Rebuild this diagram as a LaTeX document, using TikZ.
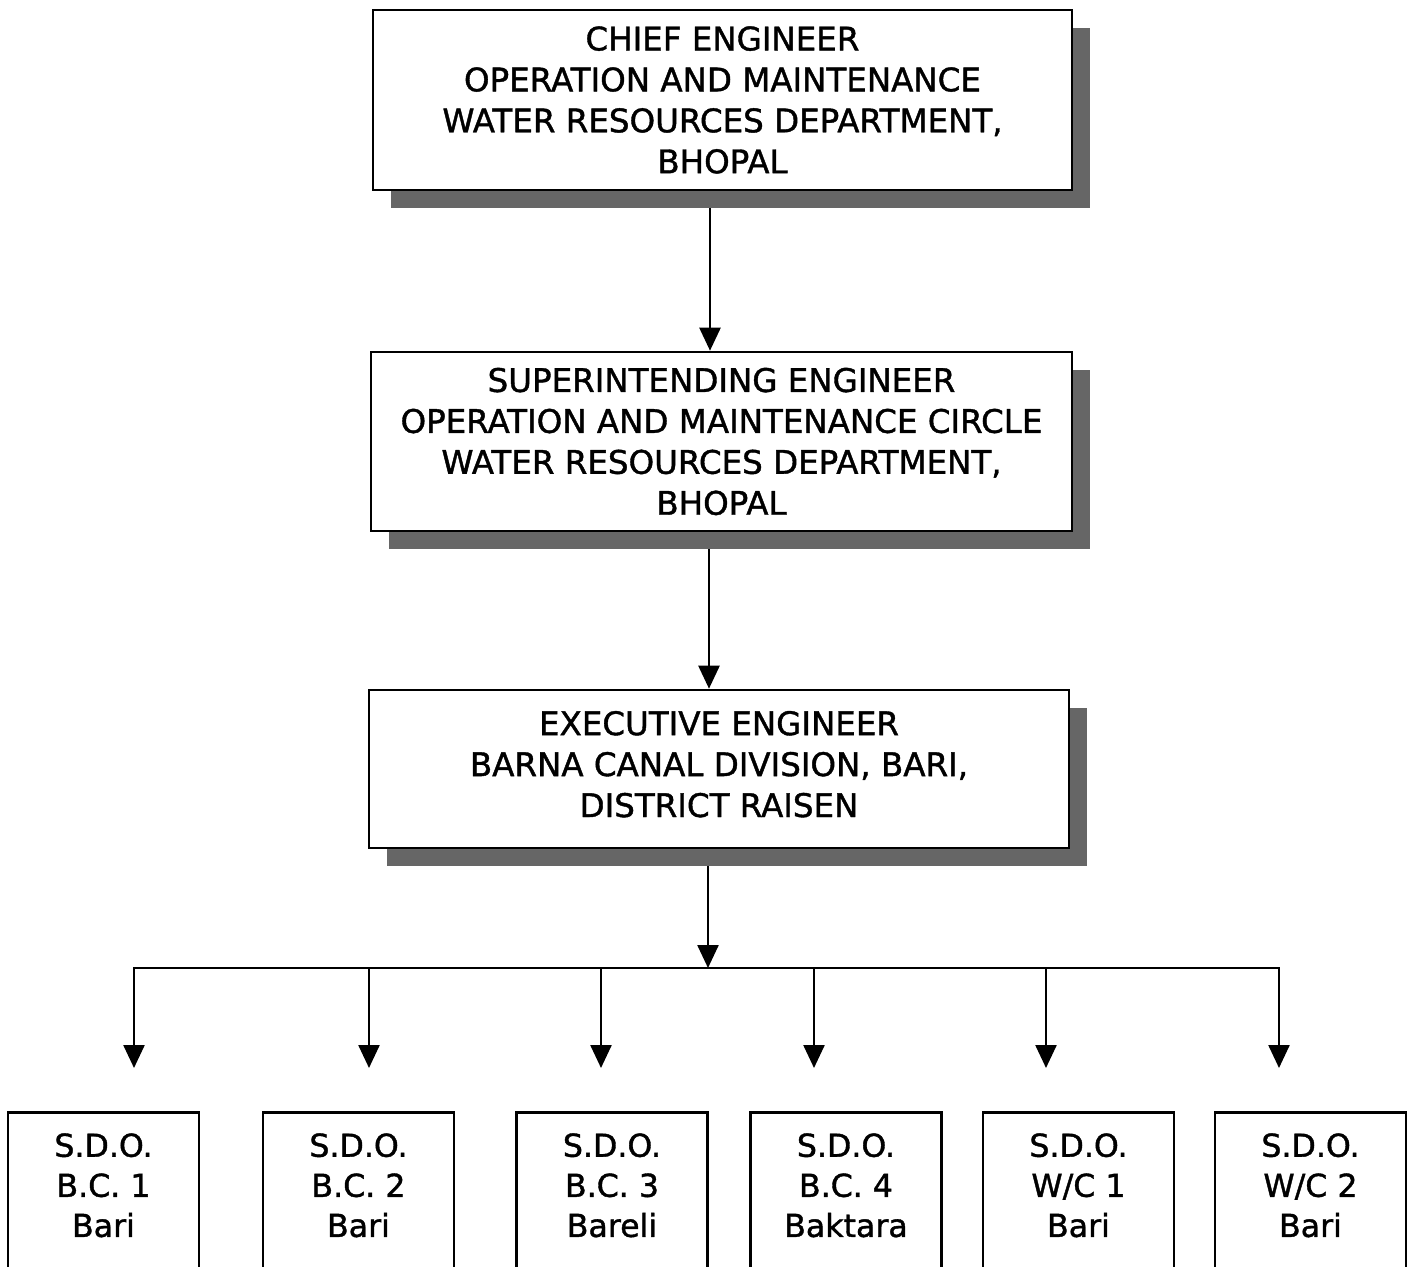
\documentclass[tikz,border=0pt]{standalone}
\usepackage{fontspec}
\setmainfont{DejaVu Sans}
\newfontfamily\orgfont{DejaVu Sans}[FakeBold=1.2]
\usetikzlibrary{positioning,shadows,arrows.meta,backgrounds}

\begin{document}
\begin{tikzpicture}[
    x=0.02cm, y=-0.02cm,
    office/.style={rectangle, draw=black, fill=white, line width=1.5pt, align=center, minimum width=14cm, minimum height=3.6cm, font=\orgfont\fontsize{18.5}{23.3}\selectfont, drop shadow={shadow xshift=0.36cm, shadow yshift=-0.36cm, fill=black!60, opacity=1}},
    sdo/.style={rectangle, draw=black, fill=white, line width=1.5pt, minimum width=3.82cm, align=center, anchor=north, inner ysep=0.42cm, text depth=3.5cm, font=\orgfont\fontsize{18}{22.8}\selectfont},
    wire/.style={-{Triangle[width=0.42cm, length=0.46cm]}, line width=1.4pt},
    bus/.style={line width=1.4pt}
]
    \useasboundingbox (0,0) rectangle (1417,1267);
    \clip (0,0) rectangle (1417,1267);

    % Top: chief, superintending and executive engineers
    \node [office, minimum width=13.98cm] (chief) at (722.5,100)
        {CHIEF ENGINEER\\OPERATION AND MAINTENANCE\\WATER RESOURCES DEPARTMENT,\\BHOPAL};
    \node [office, minimum width=14.02cm, minimum height=3.58cm] (super) at (721.5,441.5)
        {SUPERINTENDING ENGINEER\\OPERATION AND MAINTENANCE CIRCLE\\WATER RESOURCES DEPARTMENT,\\BHOPAL};
    \node [office, minimum height=3.16cm, text depth=0.2cm] (exec) at (719,769)
        {EXECUTIVE ENGINEER\\BARNA CANAL DIVISION, BARI,\\DISTRICT RAISEN};

    % Bottom row: sub-divisional officers
    \node [sdo] (sdo1) at (103.5,1111) {S.D.O.\\B.C. 1\\Bari};
    \node [sdo] (sdo2) at (358.5,1111) {S.D.O.\\B.C. 2\\Bari};
    \node [sdo] (sdo3) at (612,1111) {S.D.O.\\B.C. 3\\Bareli};
    \node [sdo] (sdo4) at (846,1111) {S.D.O.\\B.C. 4\\Baktara};
    \node [sdo] (sdo5) at (1078.5,1111) {S.D.O.\\W/C 1\\Bari};
    \node [sdo] (sdo6) at (1310.5,1111) {S.D.O.\\W/C 2\\Bari};

    % Bus and drop points
    \coordinate (bus) at (708,968);
    \coordinate (busL) at (134,968);
    \coordinate (busR) at (1279,968);
    \foreach \x [count=\i] in {134,369,601,814,1046,1279}
        \coordinate (drop\i) at (\x,1068);

    \begin{scope}[on background layer]
        \draw [wire] (chief.south -| 710,0) -- (super.north -| 710,0);
        \draw [wire] (super.south -| 709,0) -- (exec.north -| 709,0);
        \draw [wire] (exec.south -| bus) -- (bus);
    \end{scope}

    \draw [bus, line cap=rect] (busL) -- (busR);
    \foreach \i in {1,...,6}
        \draw [wire] (bus -| drop\i) -- (drop\i);
\end{tikzpicture}
\end{document}
